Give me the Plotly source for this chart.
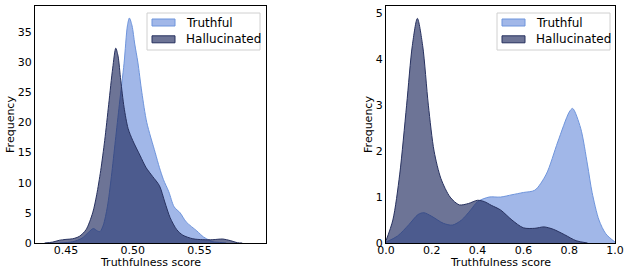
import plotly.graph_objects as go

# Left panel (dataset A) KDE estimates
left_truthful_x = [0.445, 0.455, 0.462, 0.467, 0.4705, 0.4735, 0.4755, 0.478, 0.481, 0.484, 0.487, 0.490,
                   0.4935, 0.4960, 0.4975, 0.4995, 0.5015, 0.5038, 0.5068, 0.5105, 0.5168, 0.520, 0.523,
                   0.527, 0.531, 0.5355, 0.540, 0.548, 0.553, 0.557, 0.560, 0.565, 0.570]
left_truthful_y = [0, 0.2, 0.8, 1.8, 2.4, 2.0, 1.9, 3, 6, 11, 17, 23,
                   29.8, 36, 37.3, 36, 33, 30, 25, 20, 15, 12.5, 10.5,
                   8.5, 6, 5, 3.5, 2, 1, 0.5, 0.2, 0.1, 0]

left_halluc_x = [0.434, 0.440, 0.445, 0.450, 0.455, 0.460, 0.465, 0.470, 0.473, 0.476, 0.479, 0.482,
                 0.485, 0.4873, 0.489, 0.491, 0.4935, 0.4965, 0.500, 0.5055, 0.510, 0.515, 0.520,
                 0.524, 0.528, 0.533, 0.5375, 0.545, 0.5525, 0.560, 0.5675, 0.573, 0.5785, 0.582]
left_halluc_y = [0, 0.15, 0.45, 0.6, 0.7, 1.1, 2.2, 5, 8, 12, 17, 23,
                 29, 32.3, 31, 27, 22.5, 19, 17, 14.5, 12.5, 11, 9.5,
                 6.8, 4.2, 2.2, 1.3, 0.7, 0.55, 0.55, 0.66, 0.4, 0.05, 0]

# Right panel (dataset B)
right_truthful_x = [0.0, 0.05, 0.10, 0.14, 0.165, 0.20, 0.25, 0.29, 0.33, 0.37, 0.40, 0.45, 0.50, 0.55,
                    0.60, 0.65, 0.70, 0.75, 0.80, 0.815, 0.85, 0.88, 0.90, 0.93, 0.96, 1.0]
right_truthful_y = [0.02, 0.15, 0.4, 0.62, 0.66, 0.58, 0.43, 0.39, 0.5, 0.72, 0.9, 1.0, 1.0, 1.05,
                    1.1, 1.15, 1.5, 2.2, 2.85, 2.93, 2.5, 1.7, 1.1, 0.5, 0.2, 0.02]

right_halluc_x = [0.0, 0.03, 0.06, 0.09, 0.115, 0.137, 0.16, 0.185, 0.21, 0.24, 0.28, 0.32, 0.36,
                  0.40, 0.43, 0.46, 0.50, 0.55, 0.60, 0.65, 0.69, 0.73, 0.78, 0.83, 0.88]
right_halluc_y = [0.05, 0.5, 1.5, 3.0, 4.3, 4.89, 4.3, 3.0, 2.0, 1.4, 1.0, 0.83, 0.86,
                  0.93, 0.9, 0.82, 0.72, 0.5, 0.33, 0.32, 0.35, 0.3, 0.18, 0.05, 0.0]

series_names = ["Truthful", "Hallucinated"]
x_label = "Truthfulness score"
y_label = "Frequency"

T_LINE = "#6f95dc"
T_FILL = "rgba(110,145,220,0.65)"
H_LINE = "#27315f"
H_FILL = "rgba(31,42,94,0.65)"
LINES = [T_LINE, H_LINE]
FILLS = [T_FILL, H_FILL]

fig = go.Figure()

def add_pair(xt, yt, xh, yh, xa, ya):
    for name, xs, ys, lc, fc in zip(series_names, [xt, xh], [yt, yh], LINES, FILLS):
        fig.add_trace(go.Scatter(x=xs, y=ys, mode="lines", name=name, showlegend=False,
                                 line=dict(color=lc, width=1, shape="spline", smoothing=0.8),
                                 fill="tozeroy", fillcolor=fc, xaxis=xa, yaxis=ya))

add_pair(left_truthful_x, left_truthful_y, left_halluc_x, left_halluc_y, "x", "y")
add_pair(right_truthful_x, right_truthful_y, right_halluc_x, right_halluc_y, "x2", "y2")

W, H = 625, 270
font = dict(family="DejaVu Sans", size=11, color="#000")
axis_common = dict(showline=True, linecolor="#000", linewidth=1, mirror=True,
                   ticks="", showgrid=False, zeroline=False, automargin=False,
                   tickfont=dict(family="DejaVu Sans", size=11, color="#000"))

ydom = [(H - 243) / H, (H - 6) / H]
fig.update_layout(
    width=W, height=H,
    margin=dict(l=0, r=0, t=0, b=0),
    paper_bgcolor="white", plot_bgcolor="white",
    font=font, showlegend=False,
    xaxis=dict(domain=[35 / W, 266 / W], range=[0.4268, 0.5998],
               tickvals=[0.45, 0.50, 0.55], ticktext=["0.45", "0.50", "0.55"],
               ticklabelstandoff=-3, **axis_common),
    yaxis=dict(domain=ydom, range=[0, 39.3], tickvals=[0, 5, 10, 15, 20, 25, 30, 35],
               title=dict(text=y_label, standoff=0, font=font), **axis_common),
    xaxis2=dict(domain=[386 / W, 615 / W], range=[0, 1], anchor="y2",
                tickvals=[0, 0.2, 0.4, 0.6, 0.8, 1.0],
                ticktext=["0.0", "0.2", "0.4", "0.6", "0.8", "1.0"],
                ticklabelstandoff=-3, **axis_common),
    yaxis2=dict(domain=ydom, range=[0, 5.16], anchor="x2", tickvals=[0, 1, 2, 3, 4, 5],
                title=dict(text=y_label, standoff=0, font=font), **axis_common),
)

def px(x):
    return x / W

def py(y):
    return 1 - y / H

# x-axis titles placed below each panel
for cx in [(35 + 266) / 2, (386 + 615) / 2]:
    fig.add_annotation(text=x_label, xref="paper", yref="paper",
                       x=px(cx), y=py(262), xanchor="center", yanchor="middle",
                       showarrow=False, font=font)

# legend boxes (matplotlib style) for each panel
for ox in [0, 350]:
    fig.add_shape(type="rect", xref="paper", yref="paper", layer="above",
                  x0=px(147 + ox), x1=px(260 + ox), y0=py(50), y1=py(13),
                  fillcolor="rgba(255,255,255,0.85)", line=dict(color="#d0d0d0", width=1))
    for i, name in enumerate(series_names):
        cy = 22.5 + i * 16.8
        fig.add_shape(type="rect", xref="paper", yref="paper", layer="above",
                      x0=px(152 + ox), x1=px(175 + ox), y0=py(cy + 3.5), y1=py(cy - 3.5),
                      fillcolor=FILLS[i], line=dict(color=LINES[i], width=1))
        fig.add_annotation(text=name, xref="paper", yref="paper",
                           x=px(184 + ox), y=py(cy), xanchor="left", yanchor="middle",
                           showarrow=False, font=dict(family="DejaVu Sans", size=12, color="#000"))

fig.write_html("out.html", config={"displayModeBar": False},
               post_script="document.body.style.margin='0px';")
